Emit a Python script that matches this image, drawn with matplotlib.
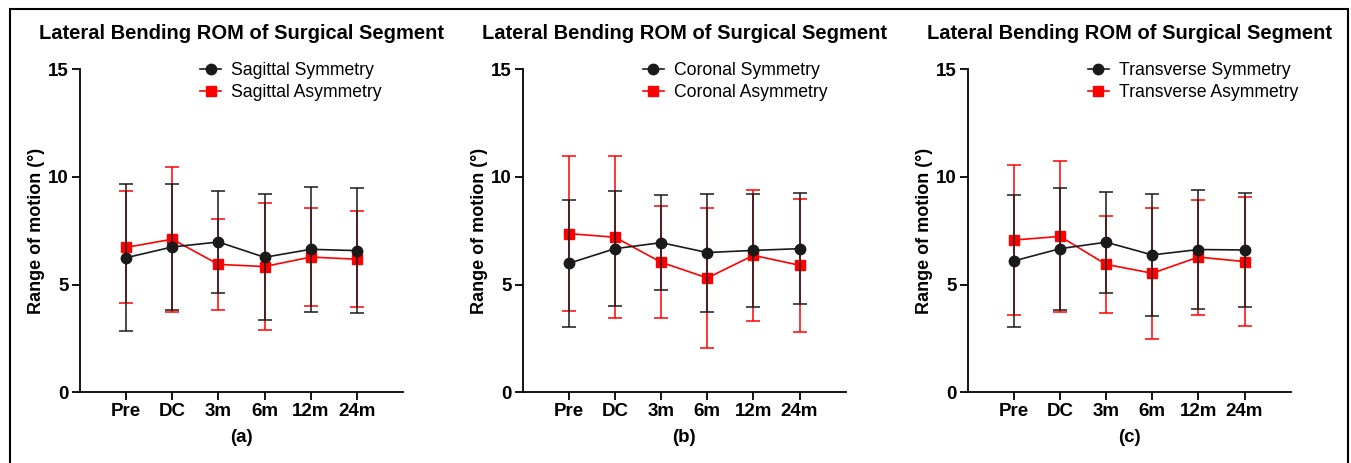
import numpy as np
import matplotlib
matplotlib.use('Agg')
import matplotlib.pyplot as plt
from matplotlib.patches import Rectangle
from matplotlib.lines import Line2D

plt.rcParams['font.family'] = ['Liberation Sans', 'DejaVu Sans']

categories = ['Pre', 'DC', '3m', '6m', '12m', '24m']
title = 'Lateral Bending ROM of Surgical Segment'
planes = ['Sagittal', 'Coronal', 'Transverse']
panel_tags = ['(a)', '(b)', '(c)']

# means and SD
sym_mean = [
    [6.25, 6.75, 6.98, 6.27, 6.64, 6.58],
    [5.99, 6.67, 6.95, 6.49, 6.59, 6.67],
    [6.10, 6.67, 6.97, 6.38, 6.63, 6.61],
]
sym_sd = [
    [3.41, 2.92, 2.39, 2.92, 2.89, 2.90],
    [2.94, 2.67, 2.22, 2.74, 2.63, 2.57],
    [3.06, 2.83, 2.34, 2.85, 2.77, 2.63],
]
asym_mean = [
    [6.73, 7.11, 5.94, 5.84, 6.28, 6.18],
    [7.37, 7.20, 6.04, 5.31, 6.36, 5.90],
    [7.07, 7.24, 5.94, 5.53, 6.28, 6.07],
]
asym_sd = [
    [2.60, 3.37, 2.13, 2.97, 2.27, 2.24],
    [3.59, 3.76, 2.59, 3.25, 3.05, 3.09],
    [3.48, 3.51, 2.27, 3.05, 2.67, 3.00],
]

black = '#1a1a1a'
red = '#ff0000'

W, H = 1351, 463
fig = plt.figure(figsize=(W / 100, H / 100), dpi=100)

# outer frame
fig.patches.append(Rectangle((10 / W, -0.1), (1348 - 10) / W, (H - 9) / H + 0.1,
                             transform=fig.transFigure, fill=False,
                             edgecolor='black', linewidth=1.5))

lefts = [80, 522.7, 967.7]
x = np.arange(len(categories))

for i in range(3):
    ax = fig.add_axes([lefts[i] / W, (H - 392.3) / H, 323 / W, 323 / H])

    ax.errorbar(x, asym_mean[i], yerr=asym_sd[i], color=red, marker='s',
                markersize=6.5, linewidth=1.2, elinewidth=1.1, capsize=5,
                capthick=1.1, zorder=2)
    ax.errorbar(x, sym_mean[i], yerr=sym_sd[i], color=black, marker='o',
                markersize=7.5, linewidth=1.2, elinewidth=1.1, capsize=5,
                capthick=1.1, zorder=3)

    ax.set_xlim(-1, 6)
    ax.set_ylim(0, 15)
    ax.set_yticks([0, 5, 10, 15])
    ax.set_xticks(x)
    ax.set_xticklabels(categories, fontsize=13.5, fontweight='bold')
    for lab in ax.get_yticklabels():
        lab.set_fontsize(13.5)
        lab.set_fontweight('bold')
    ax.tick_params(axis='both', direction='out', length=6, width=1.3, pad=2)
    ax.spines['top'].set_visible(False)
    ax.spines['right'].set_visible(False)
    ax.spines['left'].set_linewidth(1.3)
    ax.spines['bottom'].set_linewidth(1.3)

    ax.set_ylabel('Range of motion (°)', fontsize=13, fontweight='bold', labelpad=2)
    ax.set_xlabel(panel_tags[i], fontsize=13.5, fontweight='bold', labelpad=6)
    ax.set_title(title, fontsize=14.5, fontweight='bold', pad=22)

    handles = [
        Line2D([], [], color=black, marker='o', markersize=7.5, linewidth=1.2),
        Line2D([], [], color=red, marker='s', markersize=6.5, linewidth=1.2),
    ]
    labels = [planes[i] + ' Symmetry', planes[i] + ' Asymmetry']
    ax.legend(handles, labels, loc='upper left', bbox_to_anchor=(0.35, 1.045),
              frameon=False, fontsize=12.7, handlelength=1.2, handletextpad=0.55,
              labelspacing=0.3, borderaxespad=0)

fig.savefig('out.png', dpi=100)
